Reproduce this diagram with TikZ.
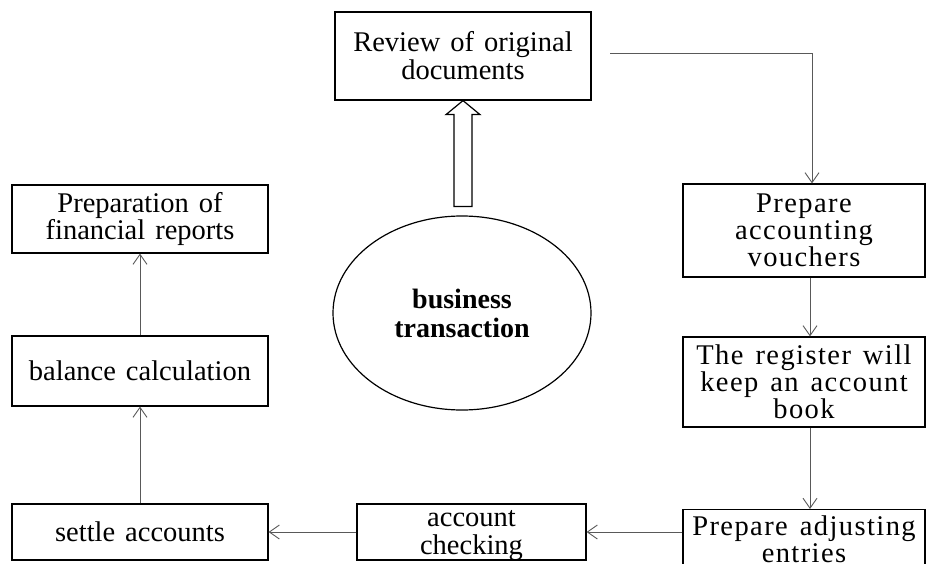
\documentclass[tikz,border=0pt]{standalone}
\usepackage{fontspec}
\setmainfont{Liberation Serif}[WordSpace=1.4]
\newfontfamily\widefont{Liberation Serif}[LetterSpace=5,WordSpace=1.4]
\usetikzlibrary{arrows.meta,shapes.geometric,calc}

\begin{document}
\begin{tikzpicture}[x=1pt,y=-1pt,
  box/.style={draw=black,line width=1.2pt,rectangle,inner sep=0pt,align=center,
    font=\fontsize{28.5}{28}\selectfont},
  widebox/.style={box,font=\widefont\fontsize{28.5}{27}\selectfont},
  conn/.style={draw=black!65,line width=0.9pt,-{Straight Barb[length=10pt,width=14pt]}},
  hollow/.style={draw=black,line width=1.2pt,fill=white}
]
\useasboundingbox (0,0) rectangle (926,564);
\clip (0,0) rectangle (926,564);

% central event
\node[ellipse,draw=black,line width=1.2pt,minimum width=258pt,minimum height=194pt,
  inner sep=0pt,align=center,font=\bfseries\fontsize{28}{29}\selectfont]
  (bt) at (462,313) {business\\transaction};

% top box
\node[box,minimum width=256pt,minimum height=88pt] (rev) at (463,56) {Review of original\\documents};

% right column
\node[widebox,minimum width=242pt,minimum height=93pt] (vou) at (804,230.5) {Prepare\\accounting\\vouchers};
\node[widebox,minimum width=242pt,minimum height=90pt] (reg) at (804,382) {The register will\\keep an account\\book};
\node[widebox,minimum width=242pt,minimum height=60pt,anchor=north] (adj) at (804,509) {Prepare adjusting\\entries};

% bottom row
\node[box,minimum width=229pt,minimum height=56pt,text depth=0pt] (chk) at (471.5,532) {account\\checking};
\node[box,minimum width=256pt,minimum height=56pt] (settle) at (140,532) {settle accounts};

% left column
\node[box,minimum width=256pt,minimum height=70pt] (bal) at (140,371) {balance calculation};
\node[box,minimum width=256pt,minimum height=68pt] (prep) at (140,219) {Preparation of\\financial reports};

% hollow block arrow from the event up to the review box
\draw[hollow] (rev.south) -- ++(17,14) -- ++(-8,0) -- ++(0,92) -- ++(-18,0)
  -- ++(0,-92) -- ++(-8,0) -- cycle;

% flow connectors
\coordinate (revout) at (610,53);
\draw[conn] (revout) -| ([xshift=8pt]vou.north);
\draw[conn] ([xshift=6pt]vou.south) -- ([xshift=6pt]reg.north);
\draw[conn] ([xshift=6pt]reg.south) -- ([xshift=6pt]adj.north);
\draw[conn] (adj.west |- chk.east) -- (chk.east);
\draw[conn] (chk.west) -- (settle.east);
\draw[conn] (settle.north) -- (bal.south);
\draw[conn] (bal.north) -- (prep.south);
\end{tikzpicture}
\end{document}
